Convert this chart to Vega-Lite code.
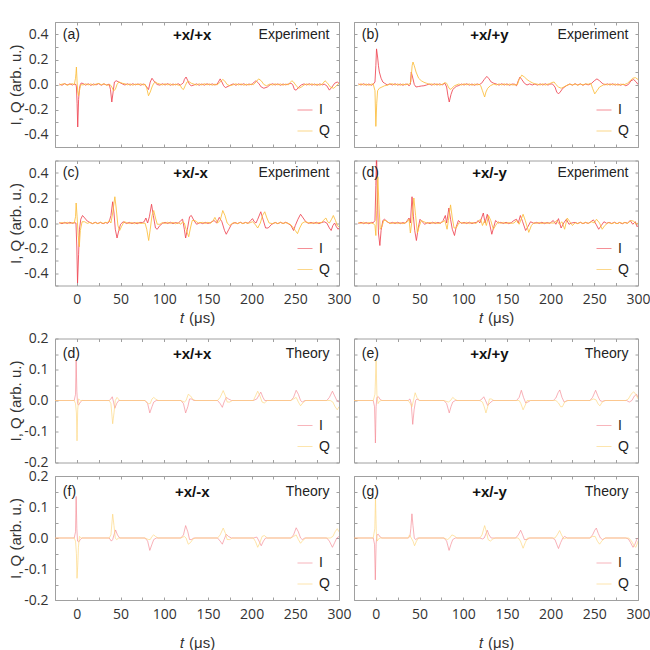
{
"$schema": "https://vega.github.io/schema/vega-lite/v6.json",
"padding": {"left": 8, "top": 14, "right": 5, "bottom": 5},
"config": {
  "view": {"stroke": "#a0a0a0", "strokeWidth": 1},
  "axis": {"domain": false, "grid": false, "ticks": true, "tickSize": -3, "tickColor": "#a0a0a0", "labelFont": "Open Sans", "labelFontSize": 14, "labelColor": "#333333", "labelPadding": 10, "titleFont": "Liberation Sans", "titleFontSize": 15, "titleFontWeight": "normal", "titleColor": "#333333"},
  "locale": {"number": {"decimal": ".", "thousands": ",", "grouping": [3], "currency": ["", ""], "minus": "-"}},
  "legend": {"orient": "bottom-right", "title": null, "symbolType": "stroke", "symbolSize": 225, "symbolStrokeWidth": 1, "symbolOpacity": 0.6, "labelFont": "Liberation Sans", "labelFontSize": 14, "labelColor": "#222222", "offset": 9, "padding": 0, "rowPadding": 6, "labelOffset": 6}
},
"datasets": {
"labels": [
{"p":"a","tag":"(a)","pair":"+x/+x","kind":"Experiment"},
{"p":"b","tag":"(b)","pair":"+x/+y","kind":"Experiment"},
{"p":"c","tag":"(c)","pair":"+x/-x","kind":"Experiment"},
{"p":"dx","tag":"(d)","pair":"+x/-y","kind":"Experiment"},
{"p":"td","tag":"(d)","pair":"+x/+x","kind":"Theory"},
{"p":"te","tag":"(e)","pair":"+x/+y","kind":"Theory"},
{"p":"tf","tag":"(f)","pair":"+x/-x","kind":"Theory"},
{"p":"tg","tag":"(g)","pair":"+x/-y","kind":"Theory"}
],
"a": [
{"t":-20,"I":0.004,"Q":-0.005},{"t":-17,"I":-0.006,"Q":0.003},{"t":-14,"I":0.007,"Q":0.006},{"t":-11,"I":-0.003,"Q":-0.006},{"t":-8,"I":0.005,"Q":0.002},{"t":-5,"I":-0.004,"Q":0.007},{"t":-3,"I":0.003,"Q":-0.002},
{"t":-1.5,"Q":0.05},{"t":-1,"I":0,"Q":0.09},{"t":-0.5,"I":-0.02,"Q":0.14},{"t":0.3,"I":-0.15,"Q":0.02},{"t":1,"I":-0.34,"Q":-0.06},{"t":2,"I":-0.12,"Q":-0.09},{"t":3,"I":-0.03,"Q":-0.05},{"t":4,"I":0,"Q":-0.015},{"t":5,"I":0.012,"Q":0},
{"t":7,"I":0.008,"Q":-0.004},{"t":10,"I":-0.005,"Q":0.006},{"t":13,"I":0.006,"Q":-0.003},{"t":16,"I":-0.007,"Q":0.005},{"t":19,"I":0.004,"Q":-0.006},{"t":22,"I":-0.003,"Q":0.004},{"t":25,"I":0.007,"Q":0.008},{"t":28,"I":-0.006,"Q":-0.002},{"t":31,"I":0.005,"Q":0.006},{"t":34,"I":-0.004,"Q":-0.005},
{"t":37,"I":0.003,"Q":-0.004},{"t":38,"Q":0},{"t":38.5,"I":-0.04},{"t":40,"I":-0.14,"Q":-0.02},{"t":41.5,"I":-0.06},{"t":42,"Q":-0.05},{"t":43,"I":0.02},{"t":44,"Q":-0.04},{"t":45,"I":0.03},{"t":46,"Q":0},{"t":48,"I":0.02,"Q":0.02},{"t":50,"I":0.012,"Q":0.016},{"t":52,"I":0.005,"Q":0.01},{"t":55,"I":-0.004,"Q":0.006},{"t":58,"I":0.006,"Q":-0.003},
{"t":61,"I":-0.005,"Q":0.005},{"t":64,"I":0.006,"Q":-0.006},{"t":67,"I":-0.003,"Q":0.004},{"t":70,"I":0.005,"Q":-0.002},{"t":73,"I":-0.006,"Q":0.006},{"t":76,"I":0.004,"Q":-0.004},
{"t":78,"I":-0.003,"Q":0.004},{"t":80,"I":-0.02,"Q":-0.03},{"t":82,"I":-0.04,"Q":-0.09},{"t":84,"I":0.02,"Q":-0.06},{"t":86,"I":0.05,"Q":-0.02},{"t":88,"I":0.03,"Q":0.01},{"t":90,"I":0.012,"Q":0.02},{"t":92,"I":0,"Q":0.01},{"t":95,"I":-0.005,"Q":0.004},{"t":98,"I":0.006,"Q":-0.004},
{"t":101,"I":-0.004,"Q":0.006},{"t":104,"I":0.007,"Q":-0.003},{"t":107,"I":-0.006,"Q":0.005},{"t":110,"I":0.004,"Q":-0.006},{"t":113,"I":-0.003,"Q":0.004},{"t":116,"I":0.006,"Q":-0.005},
{"t":118.5,"I":-0.004,"Q":-0.008},{"t":120,"I":0.003,"Q":-0.03},{"t":122,"I":0.015,"Q":-0.04},{"t":123,"I":0.04},{"t":124,"Q":-0.01},{"t":125,"I":0.06},{"t":126,"Q":0.02},{"t":127,"I":0.03},{"t":128,"Q":0.025},{"t":129,"I":0},{"t":131,"I":-0.01,"Q":0.01},{"t":134,"I":-0.004,"Q":0.003},{"t":137,"I":0.005,"Q":-0.005},
{"t":140,"I":-0.006,"Q":0.006},{"t":143,"I":0.004,"Q":-0.004},{"t":146,"I":-0.005,"Q":0.007},{"t":149,"I":0.006,"Q":-0.003},{"t":152,"I":-0.003,"Q":0.005},{"t":155,"I":0.005,"Q":-0.006},{"t":158,"I":-0.004,"Q":0.003},
{"t":160.5,"I":0.003,"Q":-0.003},{"t":162,"I":0.02,"Q":0.005},{"t":164,"I":0.045,"Q":0.02},{"t":166,"I":0.02,"Q":0.035},{"t":167,"Q":0.04},{"t":168,"I":-0.01},{"t":169,"Q":0.03},{"t":170,"I":-0.025},{"t":172,"Q":0},{"t":173,"I":-0.015},{"t":175,"Q":-0.01},{"t":176,"I":-0.004},{"t":179,"I":0.005,"Q":-0.002},
{"t":182,"I":-0.006,"Q":0.006},{"t":185,"I":0.005,"Q":-0.004},{"t":188,"I":-0.003,"Q":0.005},{"t":191,"I":0.006,"Q":-0.006},{"t":194,"I":-0.005,"Q":0.003},{"t":197,"I":0.004,"Q":-0.004},
{"t":200,"I":-0.002,"Q":0.004},{"t":202,"Q":-0.002},{"t":203,"I":0.02},{"t":205,"I":0.03,"Q":0.02},{"t":208,"I":0.01,"Q":0.045},{"t":211,"I":-0.02,"Q":0.03},{"t":214,"I":-0.03,"Q":0},{"t":217,"Q":-0.01},{"t":218,"I":-0.02},{"t":221,"I":-0.003,"Q":0.004},{"t":224,"I":0.006,"Q":-0.005},
{"t":227,"I":-0.004,"Q":0.006},{"t":230,"I":0.005,"Q":-0.003},{"t":233,"I":-0.006,"Q":0.005},{"t":236,"I":0.004,"Q":-0.006},{"t":239,"I":-0.003,"Q":0.004},
{"t":242,"I":0.004,"Q":-0.003},{"t":244,"Q":0.015},{"t":245,"I":0.01},{"t":246,"Q":0.03},{"t":247,"I":0},{"t":248,"Q":0.02},{"t":249,"I":-0.04},{"t":251,"I":-0.045,"Q":-0.01},{"t":254,"I":-0.02,"Q":-0.03},{"t":257,"I":-0.003,"Q":-0.02},{"t":260,"I":0.005,"Q":-0.004},{"t":263,"I":-0.004,"Q":0.005},
{"t":266,"I":0.006,"Q":-0.004},{"t":269,"I":-0.005,"Q":0.006},{"t":272,"I":0.004,"Q":-0.005},{"t":275,"I":-0.006,"Q":0.003},{"t":278,"I":0.005,"Q":-0.006},{"t":281,"I":-0.003,"Q":0.004},
{"t":283,"I":0.003},{"t":284,"Q":0.03},{"t":286,"I":-0.01},{"t":287,"Q":0.01},{"t":289,"I":-0.045},{"t":290,"Q":-0.02},{"t":292,"I":-0.02},{"t":294,"Q":-0.03},{"t":295,"I":0.01},{"t":297,"Q":-0.01},{"t":298,"I":0.02},{"t":300,"I":0.01,"Q":0.01}
],
"b": [
{"t":-20,"I":0.005,"Q":-0.004},{"t":-17,"I":-0.004,"Q":0.006},{"t":-14,"I":0.006,"Q":-0.005},{"t":-11,"I":-0.005,"Q":0.004},{"t":-8,"I":0.004,"Q":-0.006},{"t":-5,"I":-0.006,"Q":0.003},{"t":-3,"I":0.003,"Q":0.004},
{"t":-1,"I":0.02,"Q":-0.05},{"t":0,"I":0.15,"Q":-0.335},{"t":0.8,"I":0.285},{"t":1,"Q":-0.15},{"t":2,"I":0.22,"Q":-0.05},{"t":3,"I":0.15},{"t":4,"I":0.1,"Q":-0.03},{"t":6,"I":0.05},{"t":7,"Q":-0.02},{"t":8,"I":0.02},{"t":10,"I":0.01,"Q":-0.01},{"t":13,"I":-0.003,"Q":-0.006},{"t":16,"I":0.005,"Q":0.003},
{"t":19,"I":-0.004,"Q":0.006},{"t":22,"I":0.006,"Q":-0.004},{"t":25,"I":-0.005,"Q":0.005},{"t":28,"I":0.004,"Q":-0.006},{"t":31,"I":-0.006,"Q":0.004},{"t":34,"I":0.003,"Q":-0.003},
{"t":36,"I":0.002,"Q":0.004},{"t":38,"I":-0.01,"Q":0},{"t":39.5,"I":0},{"t":40,"Q":0.02},{"t":40.5,"I":0.1},{"t":41.5,"Q":0.15},{"t":42,"I":0.06},{"t":42.5,"Q":0.18},{"t":44,"I":0,"Q":0.15},{"t":46,"I":-0.02,"Q":0.1},{"t":49,"I":-0.016,"Q":0.05},{"t":52,"I":-0.012,"Q":0.03},{"t":55,"I":-0.01,"Q":0.018},{"t":58,"I":-0.004,"Q":0.01},{"t":61,"I":0.004,"Q":0.002},
{"t":64,"I":-0.005,"Q":0.005},{"t":67,"I":0.006,"Q":-0.004},{"t":70,"I":-0.004,"Q":0.006},{"t":73,"I":0.005,"Q":-0.005},
{"t":76,"I":-0.003,"Q":0.002},{"t":79,"I":0.01,"Q":0.015},{"t":81,"I":-0.02,"Q":0.01},{"t":82.5,"I":-0.09},{"t":83,"Q":-0.02},{"t":84,"I":-0.14},{"t":85,"Q":-0.04},{"t":86,"I":-0.08},{"t":87,"Q":-0.03},{"t":88,"I":-0.04},{"t":90,"Q":-0.01},{"t":92,"I":-0.015},{"t":95,"I":-0.008,"Q":0.004},{"t":98,"I":0.004,"Q":-0.005},
{"t":101,"I":-0.004,"Q":0.006},{"t":104,"I":0.006,"Q":-0.003},{"t":107,"I":-0.005,"Q":0.005},{"t":110,"I":0.004,"Q":-0.006},{"t":113,"I":-0.006,"Q":0.004},{"t":116,"I":0.005,"Q":-0.004},
{"t":118,"I":-0.002,"Q":0.003},{"t":120,"Q":-0.01},{"t":121,"I":0.01},{"t":122,"Q":-0.05},{"t":124,"I":0.04},{"t":124.5,"Q":-0.1},{"t":126,"Q":-0.06},{"t":127,"I":0.065},{"t":128,"Q":-0.03},{"t":129,"I":0.05},{"t":131,"Q":-0.01},{"t":132,"I":0.02},{"t":135,"I":0.01,"Q":0.004},{"t":138,"I":0.004,"Q":-0.004},
{"t":141,"I":-0.005,"Q":0.005},{"t":144,"I":0.006,"Q":-0.004},{"t":147,"I":-0.004,"Q":0.006},{"t":150,"I":0.005,"Q":-0.005},{"t":153,"I":-0.006,"Q":0.004},{"t":156,"I":0.004,"Q":-0.003},
{"t":159,"I":0.002,"Q":-0.003},{"t":161,"I":-0.01},{"t":162,"Q":0},{"t":163,"I":0.03},{"t":164,"Q":0.04},{"t":165,"I":0.06},{"t":167,"I":0.04,"Q":0.075},{"t":170,"I":0.01,"Q":0.06},{"t":173,"I":-0.004,"Q":0.04},{"t":176,"I":0.005,"Q":0.025},{"t":179,"I":-0.004,"Q":0.014},{"t":182,"I":0.004,"Q":0.005},{"t":185,"I":-0.005,"Q":0.003},
{"t":188,"I":0.005,"Q":-0.004},{"t":191,"I":-0.004,"Q":0.006},{"t":194,"I":0.006,"Q":-0.005},{"t":197,"I":-0.005,"Q":0.004},
{"t":199,"I":0.003,"Q":0.006},{"t":201,"Q":0.015},{"t":202,"I":0.005},{"t":204,"Q":0.02},{"t":205,"I":-0.02},{"t":206,"Q":0},{"t":207,"I":-0.06},{"t":209,"I":-0.075,"Q":-0.02},{"t":211,"I":-0.06},{"t":212,"Q":-0.03},{"t":214,"I":-0.03},{"t":215,"Q":-0.02},{"t":218,"I":-0.01},{"t":219,"Q":-0.005},{"t":222,"I":0.004,"Q":0.003},{"t":225,"I":-0.005,"Q":-0.004},
{"t":228,"I":0.006,"Q":0.005},{"t":231,"I":-0.004,"Q":-0.006},{"t":234,"I":0.005,"Q":0.004},{"t":237,"I":-0.006,"Q":-0.003},{"t":240,"I":0.004,"Q":0.005},
{"t":243,"I":-0.003,"Q":0.002},{"t":246,"I":0.006,"Q":0.01},{"t":247,"I":0.01},{"t":248,"Q":-0.03},{"t":250,"I":0.03},{"t":250.5,"Q":-0.075},{"t":253,"I":0.045,"Q":-0.05},{"t":256,"I":0.03,"Q":-0.02},{"t":259,"I":0.01},{"t":260,"Q":-0.005},{"t":262,"I":-0.003,"Q":0.004},{"t":265,"I":0.005,"Q":-0.004},
{"t":268,"I":-0.004,"Q":0.006},{"t":271,"I":0.006,"Q":-0.004},{"t":274,"I":-0.005,"Q":0.005},{"t":277,"I":0.004,"Q":-0.006},{"t":280,"I":-0.006,"Q":0.003},
{"t":283,"I":0.003},{"t":284,"Q":-0.002},{"t":286,"I":-0.01},{"t":288,"Q":0.01},{"t":289,"I":0},{"t":291,"Q":0.03},{"t":292,"I":0.03},{"t":294,"Q":0.05},{"t":295,"I":0.04},{"t":297,"Q":0.055},{"t":298,"I":0.02},{"t":300,"I":0,"Q":0.04}
],
"c": [
{"t":-20,"I":0.004,"Q":-0.005},{"t":-17,"I":-0.006,"Q":0.004},{"t":-14,"I":0.005,"Q":-0.003},{"t":-11,"I":-0.004,"Q":0.006},{"t":-8,"I":0.006,"Q":-0.005},{"t":-5,"I":-0.003,"Q":0.004},
{"t":-3,"I":0.003,"Q":-0.002},{"t":-1.5,"Q":0.05},{"t":-1,"I":0},{"t":-0.8,"Q":0.16},{"t":0,"I":-0.2},{"t":0.3,"Q":0.05},{"t":0.8,"I":-0.48},{"t":1.5,"Q":-0.1},{"t":2,"I":-0.25},{"t":2.8,"Q":-0.19},{"t":3,"I":-0.05},{"t":4,"Q":-0.06},{"t":4.5,"I":0.03},{"t":6,"Q":0.01},{"t":6.5,"I":0.06},{"t":9,"I":0.04,"Q":0.01},{"t":12,"I":0.015,"Q":-0.003},{"t":15,"I":0.004,"Q":0.005},{"t":18,"I":-0.005,"Q":-0.004},
{"t":21,"I":0.006,"Q":0.004},{"t":24,"I":-0.004,"Q":-0.005},{"t":27,"I":0.005,"Q":0.006},{"t":30,"I":-0.006,"Q":-0.003},{"t":33,"I":0.004,"Q":0.005},
{"t":35,"I":-0.003,"Q":0.003},{"t":37,"I":0.01,"Q":0.02},{"t":39,"I":0.06,"Q":0},{"t":41,"I":0.17,"Q":0.08},{"t":42.5,"I":0.08},{"t":43.5,"Q":0.21},{"t":44,"I":-0.05},{"t":45,"Q":0.12},{"t":46,"I":-0.12},{"t":47,"Q":-0.02},{"t":48,"I":-0.06},{"t":49,"Q":-0.06},{"t":50,"I":-0.01},{"t":51,"Q":-0.03},{"t":53,"I":0.01},{"t":54,"Q":0.01},{"t":57,"I":-0.004,"Q":0.004},{"t":60,"I":0.005,"Q":-0.005},
{"t":63,"I":-0.005,"Q":0.004},{"t":66,"I":0.004,"Q":-0.006},{"t":69,"I":-0.006,"Q":0.005},{"t":72,"I":0.005,"Q":-0.003},
{"t":75,"I":0.004,"Q":-0.003},{"t":77,"I":0.01},{"t":78,"Q":0},{"t":79,"I":0.04},{"t":80,"Q":-0.05},{"t":81,"I":0},{"t":82.2,"Q":-0.14},{"t":83,"I":0.05},{"t":84,"Q":-0.05},{"t":85.5,"I":0.15},{"t":86,"Q":0.06},{"t":87.5,"I":0.06},{"t":88,"Q":0.1},{"t":90,"I":-0.04,"Q":0.04},{"t":92,"I":-0.05,"Q":-0.01},{"t":95,"I":-0.02,"Q":-0.01},{"t":98,"I":-0.003,"Q":0.004},{"t":101,"I":0.005,"Q":-0.004},
{"t":104,"I":-0.004,"Q":0.006},{"t":107,"I":0.006,"Q":-0.004},{"t":110,"I":-0.005,"Q":0.005},{"t":113,"I":0.004,"Q":-0.006},
{"t":116,"I":-0.003,"Q":0.003},{"t":119,"I":0.02,"Q":-0.01},{"t":121,"I":0.03,"Q":0.01},{"t":123,"I":-0.05,"Q":0},{"t":124.5,"I":-0.12},{"t":125,"Q":-0.05},{"t":126.5,"I":-0.05},{"t":128,"Q":-0.11},{"t":129,"I":0.05},{"t":130,"Q":-0.04},{"t":131,"I":0.06},{"t":132,"Q":0.02},{"t":134,"I":0.02},{"t":135,"Q":0.02},{"t":137,"I":-0.01},{"t":139,"Q":0},{"t":141,"I":0.003},{"t":144,"I":-0.005,"Q":0.005},
{"t":147,"I":0.005,"Q":-0.004},{"t":150,"I":-0.004,"Q":0.006},
{"t":153,"I":0.004,"Q":-0.003},{"t":156,"Q":0.02},{"t":157,"I":0.02},{"t":158,"Q":0.045},{"t":160,"I":0},{"t":161,"Q":0},{"t":163,"I":0.045},{"t":164,"Q":0.02},{"t":166,"I":0.01},{"t":167,"Q":0.1},{"t":169,"I":-0.06},{"t":169.5,"Q":0.06},{"t":171,"I":-0.09},{"t":172,"Q":0},{"t":174,"I":-0.05},{"t":175,"Q":-0.02},{"t":177,"I":-0.01},{"t":179,"Q":0.003},{"t":181,"I":0.004},{"t":184,"I":-0.005,"Q":-0.004},{"t":187,"I":0.006,"Q":0.005},{"t":190,"I":-0.004,"Q":-0.005},{"t":193,"I":0.005,"Q":0.004},
{"t":196,"I":-0.003,"Q":-0.002},{"t":199,"I":0.02,"Q":0.004},{"t":201,"I":0.035,"Q":0.01},{"t":203,"I":0.01},{"t":204,"Q":-0.01},{"t":205,"I":0},{"t":207,"I":0.03,"Q":-0.04},{"t":210,"Q":0},{"t":210.5,"I":0.09},{"t":212.5,"Q":0.06},{"t":213,"I":0.03},{"t":215,"Q":0.09},{"t":216,"I":-0.04},{"t":217.5,"Q":0.04},{"t":219,"I":-0.04},{"t":220,"Q":0},{"t":223,"I":-0.01},{"t":224,"Q":-0.005},{"t":227,"I":0.004,"Q":0.004},{"t":230,"I":-0.005,"Q":-0.005},{"t":233,"I":0.005,"Q":0.006},{"t":236,"I":-0.004,"Q":-0.004},{"t":239,"I":0.006,"Q":0.003},
{"t":241.5,"I":-0.003,"Q":-0.002},{"t":244,"Q":-0.01},{"t":245,"I":-0.02},{"t":247,"Q":-0.03},{"t":248,"I":-0.06},{"t":250,"I":-0.02,"Q":-0.06},{"t":252.5,"Q":-0.085},{"t":253,"I":0.03},{"t":255,"Q":-0.04},{"t":256,"I":0.07},{"t":258,"Q":0},{"t":259,"I":0.04},{"t":261,"Q":0.01},{"t":262,"I":0.01},{"t":265,"I":-0.003,"Q":0.003},{"t":268,"I":0.005,"Q":-0.004},{"t":271,"I":-0.004,"Q":0.005},{"t":274,"I":0.006,"Q":-0.005},{"t":277,"I":-0.005,"Q":0.004},
{"t":280,"I":0.003,"Q":0.004},{"t":282,"Q":0.02},{"t":283,"I":0.01},{"t":285,"Q":0.04},{"t":286,"I":0},{"t":287,"Q":0.01},{"t":289,"I":-0.04,"Q":0},{"t":291,"I":-0.06},{"t":291.5,"Q":0.03},{"t":293,"I":-0.02},{"t":293.5,"Q":0.06},{"t":295,"I":0},{"t":296,"Q":0.02},{"t":297,"I":-0.03},{"t":298,"Q":-0.02},{"t":299,"I":-0.05},{"t":300,"I":-0.04,"Q":-0.03}
],
"dx": [
{"t":-20,"I":-0.004,"Q":0.005},{"t":-17,"I":0.006,"Q":-0.004},{"t":-14,"I":-0.005,"Q":0.006},{"t":-11,"I":0.004,"Q":-0.005},{"t":-8,"I":-0.006,"Q":0.004},{"t":-5,"I":0.005,"Q":-0.003},
{"t":-3,"I":0.002,"Q":-0.003},{"t":-1,"I":0.02,"Q":-0.02},{"t":0,"I":0.3,"Q":-0.1},{"t":0.8,"I":0.56},{"t":1,"Q":0.1},{"t":1.8,"I":0.2},{"t":2.3,"Q":0.37},{"t":3,"I":-0.08},{"t":3.5,"Q":0.15},{"t":4.6,"I":-0.18},{"t":5,"Q":-0.05},{"t":6,"I":-0.06},{"t":7,"Q":-0.03},{"t":8,"I":0.02},{"t":9,"Q":0.02},{"t":10,"I":0.03},{"t":11,"Q":0.02},{"t":13,"I":0.01},{"t":15,"Q":0.002},{"t":16,"I":-0.003},{"t":19,"I":0.005,"Q":-0.004},{"t":22,"I":-0.004,"Q":0.005},{"t":25,"I":0.006,"Q":-0.005},{"t":28,"I":-0.005,"Q":0.004},{"t":31,"I":0.004,"Q":-0.006},
{"t":33.5,"I":-0.003,"Q":0.002},{"t":36,"I":0.02,"Q":0.01},{"t":38,"I":0.04,"Q":0.03},{"t":39.5,"I":0,"Q":-0.08},{"t":41,"Q":0},{"t":41.4,"I":0.21},{"t":43,"I":0.05},{"t":43.5,"Q":0.2},{"t":44.5,"I":-0.06},{"t":45.5,"Q":0.06},{"t":46.4,"I":-0.14},{"t":47.5,"Q":-0.08},{"t":48.5,"I":-0.04},{"t":49.5,"Q":-0.03},{"t":50.5,"I":0.03},{"t":52,"Q":0.02},{"t":53,"I":0.01},{"t":55,"Q":0.01},{"t":56,"I":-0.01},{"t":59,"I":0.003,"Q":-0.002},{"t":62,"I":-0.005,"Q":0.005},{"t":65,"I":0.006,"Q":-0.004},{"t":68,"I":-0.004,"Q":0.006},{"t":71,"I":0.005,"Q":-0.005},
{"t":74,"I":-0.003,"Q":0.003},{"t":77,"I":0.02,"Q":0.01},{"t":79,"Q":0.02},{"t":79.5,"I":0.06},{"t":81,"I":0},{"t":81.5,"Q":-0.05},{"t":83,"Q":0.02},{"t":83.6,"I":0.12},{"t":85.5,"I":0.03,"Q":0.145},{"t":87.5,"I":-0.05,"Q":0.04},{"t":89.5,"Q":-0.04},{"t":90,"I":-0.1},{"t":92,"I":-0.03,"Q":-0.04},{"t":94.5,"I":0.02},{"t":95,"Q":0},{"t":98,"I":-0.003,"Q":0.004},{"t":101,"I":0.005,"Q":-0.004},{"t":104,"I":-0.004,"Q":0.006},{"t":107,"I":0.006,"Q":-0.005},{"t":110,"I":-0.005,"Q":0.004},{"t":113,"I":0.004,"Q":-0.003},
{"t":115,"I":0.003,"Q":-0.002},{"t":117,"I":0.02},{"t":118,"Q":0.02},{"t":119,"I":0},{"t":120,"Q":0.03},{"t":121,"I":0.04},{"t":122,"Q":-0.02},{"t":123,"I":0.08},{"t":124.5,"Q":0.02},{"t":125,"I":0},{"t":126.5,"Q":-0.02},{"t":127.5,"I":0.07},{"t":129,"Q":0.06},{"t":130,"I":0},{"t":131.5,"Q":0.02},{"t":132.7,"I":-0.09},{"t":134.5,"Q":-0.05},{"t":135,"I":-0.03},{"t":137,"I":0.02,"Q":-0.02},{"t":140,"I":0,"Q":0.01},{"t":143,"I":0.005,"Q":-0.003},{"t":146,"I":-0.004,"Q":0.005},{"t":149,"I":0.006,"Q":-0.004},{"t":152,"I":-0.005,"Q":0.004},
{"t":155,"I":0.003,"Q":-0.003},{"t":158,"I":0.02,"Q":0},{"t":161,"I":0.03,"Q":0.02},{"t":163,"I":0},{"t":164,"Q":-0.01},{"t":165.4,"I":0.06},{"t":168,"I":0.01},{"t":168.5,"Q":0.07},{"t":171,"Q":0.02},{"t":171.4,"I":-0.06},{"t":174,"I":-0.03},{"t":175,"Q":-0.075},{"t":177,"I":0.01},{"t":178,"Q":-0.02},{"t":181,"I":-0.003,"Q":0.003},{"t":184,"I":0.005,"Q":-0.004},{"t":187,"I":-0.004,"Q":0.005},{"t":190,"I":0.006,"Q":-0.005},{"t":193,"I":-0.005,"Q":0.004},{"t":196,"I":0.004,"Q":-0.003},
{"t":199,"I":-0.003,"Q":0.002},{"t":201,"Q":0},{"t":203,"I":0.02},{"t":204,"Q":0},{"t":206,"I":-0.01},{"t":207,"Q":0.02},{"t":209,"I":0.035},{"t":210,"Q":-0.01},{"t":212,"I":-0.04},{"t":213,"Q":0.01},{"t":215,"I":0},{"t":216,"Q":-0.05},{"t":218,"I":0.03},{"t":219,"Q":0.04},{"t":221,"I":-0.01},{"t":222,"Q":0.01},{"t":224,"I":0},{"t":225,"Q":-0.02},{"t":228,"I":0.005,"Q":0.002},{"t":231,"I":-0.004,"Q":-0.005},{"t":234,"I":0.006,"Q":0.005},{"t":237,"I":-0.005,"Q":-0.004},{"t":240,"I":0.004,"Q":0.006},
{"t":243,"I":-0.003,"Q":-0.003},{"t":246,"I":0.01},{"t":247,"Q":0.01},{"t":249,"I":0.025},{"t":250,"Q":0},{"t":252,"I":-0.01},{"t":252.5,"Q":0.03},{"t":255,"I":-0.05},{"t":256,"Q":0},{"t":258,"I":-0.02},{"t":259,"Q":-0.05},{"t":261,"I":0.01},{"t":262,"Q":-0.02},{"t":264,"I":-0.002},{"t":266,"Q":0.003},{"t":267,"I":0.005},{"t":270,"I":-0.004,"Q":-0.005},{"t":273,"I":0.006,"Q":0.004},{"t":276,"I":-0.005,"Q":-0.006},{"t":279,"I":0.004,"Q":0.005},{"t":282,"I":-0.006,"Q":-0.003},{"t":285,"I":0.005,"Q":0.004},
{"t":288,"I":-0.002,"Q":-0.003},{"t":291,"I":0.02},{"t":292,"Q":0.02},{"t":294,"I":-0.01},{"t":295,"Q":0.015},{"t":297,"I":0.01},{"t":298,"Q":-0.01},{"t":299,"I":-0.03},{"t":300,"I":-0.02,"Q":0}
],
"td": [
{"t":-25,"I":0,"Q":0},{"t":-3,"I":0,"Q":0},{"t":-1.5,"I":0.02,"Q":-0.01},{"t":-0.8,"I":0.13},{"t":-0.5,"Q":-0.04},{"t":0,"I":0.03},{"t":0.2,"Q":-0.13},{"t":0.8,"I":-0.01},{"t":1,"Q":-0.03},{"t":2,"I":-0.015,"Q":0.005},{"t":4,"I":-0.005,"Q":0},{"t":6,"I":0},
{"t":37,"I":0,"Q":0},{"t":39,"I":0.005,"Q":-0.01},{"t":40.5,"I":0.012},{"t":41,"Q":-0.075},{"t":42,"I":-0.005},{"t":42.5,"Q":-0.04},{"t":43.5,"I":-0.025},{"t":44,"Q":0},{"t":45.5,"I":-0.01},{"t":46,"Q":0.01},{"t":48,"I":0},{"t":49,"Q":0},
{"t":78,"I":0,"Q":0},{"t":81,"I":-0.01},{"t":82,"Q":-0.01},{"t":83.5,"I":-0.04},{"t":84,"Q":-0.01},{"t":86,"I":-0.02,"Q":0.005},{"t":88,"I":-0.005,"Q":0.01},{"t":90,"Q":0.005},{"t":91,"I":0},{"t":93,"Q":0},
{"t":119,"I":0,"Q":0},{"t":122,"I":-0.01},{"t":123,"Q":-0.005},{"t":124.5,"I":-0.04},{"t":125,"Q":0},{"t":127,"I":-0.02},{"t":127.5,"Q":0.02},{"t":129,"I":0.005},{"t":130,"Q":0.015},{"t":131,"I":0.005},{"t":133,"Q":0.003},{"t":134,"I":0},{"t":136,"Q":0},
{"t":161,"I":0,"Q":0},{"t":164,"I":-0.01,"Q":0.01},{"t":166.5,"I":-0.022},{"t":167.5,"Q":0.032},{"t":168.5,"I":-0.005},{"t":170,"Q":0.015},{"t":171,"I":0.01},{"t":172,"Q":-0.005},{"t":173.5,"I":0.005},{"t":175,"Q":-0.005},{"t":177,"I":0},{"t":178,"Q":0},
{"t":202,"I":0,"Q":0},{"t":204.5,"Q":0.015},{"t":206,"I":0.005},{"t":207,"Q":0.03},{"t":208,"I":0.015},{"t":209.5,"Q":0.015},{"t":210.5,"I":0.027},{"t":212,"Q":-0.005},{"t":213,"I":0.01},{"t":214.5,"Q":-0.008},{"t":215,"I":0},{"t":218,"I":0,"Q":0},
{"t":245,"I":0,"Q":0},{"t":248,"I":0.01,"Q":0.005},{"t":251,"I":0.033,"Q":0.01},{"t":253.5,"I":0.02,"Q":-0.005},{"t":256,"I":0,"Q":-0.017},{"t":258,"I":-0.005},{"t":258.5,"Q":-0.008},{"t":261,"I":0},{"t":262,"Q":0},
{"t":286,"I":0},{"t":287,"Q":0},{"t":289,"I":0.01},{"t":290,"Q":0},{"t":292.5,"I":0.03},{"t":293,"Q":-0.005},{"t":295,"I":0.015},{"t":295.5,"Q":-0.02},{"t":297.5,"I":0},{"t":298,"Q":-0.03},{"t":300,"I":-0.005,"Q":-0.02}
],
"te": [
{"t":-25,"I":0,"Q":0},{"t":-3,"I":0,"Q":0},{"t":-1.5,"I":-0.02},{"t":-1,"Q":0.02},{"t":-0.5,"I":-0.137},{"t":0.3,"I":-0.02,"Q":0.13},{"t":1.2,"I":0.01,"Q":0.02},{"t":2.5,"Q":-0.01},{"t":3,"I":0.012},{"t":4,"Q":-0.003},{"t":5,"I":0.003},{"t":6,"Q":0},{"t":7,"I":0},
{"t":37,"I":0,"Q":0},{"t":39,"I":0.005},{"t":39.5,"Q":-0.01},{"t":40.5,"I":-0.01},{"t":41.3,"Q":-0.02},{"t":42.2,"I":-0.077},{"t":43,"Q":0},{"t":43.8,"I":-0.03},{"t":45,"Q":0.025},{"t":45.5,"I":0},{"t":47,"I":0.005,"Q":0.01},{"t":50,"I":0,"Q":0},
{"t":78,"I":0,"Q":0},{"t":81,"I":-0.01},{"t":83,"Q":-0.005},{"t":84,"I":-0.04},{"t":85.5,"Q":0},{"t":86,"I":-0.02},{"t":88,"I":-0.005,"Q":0.01},{"t":90,"Q":0.005},{"t":91,"I":0},{"t":93,"Q":0},
{"t":119,"I":0,"Q":0},{"t":121.5,"I":0.005},{"t":122,"Q":-0.005},{"t":123.5,"I":0.012},{"t":124,"Q":-0.02},{"t":125.5,"I":0},{"t":126,"Q":-0.04},{"t":128,"I":-0.016,"Q":-0.02},{"t":130,"Q":0.005},{"t":130.5,"I":-0.008},{"t":132,"Q":0.005},{"t":134,"I":0},{"t":135,"Q":0},
{"t":161,"I":0,"Q":0},{"t":164,"I":0.01,"Q":0},{"t":166,"Q":-0.01},{"t":166.5,"I":0.033},{"t":168.5,"Q":-0.03},{"t":169,"I":0.01},{"t":171,"Q":-0.015},{"t":171.5,"I":-0.008},{"t":173,"Q":0},{"t":174,"I":-0.005},{"t":176,"Q":0},{"t":177,"I":0},
{"t":203,"I":0,"Q":0},{"t":206,"I":0.008,"Q":0},{"t":208.5,"I":0.025},{"t":209,"Q":-0.008},{"t":210.5,"I":0.034},{"t":211.5,"Q":-0.02},{"t":213,"I":0.01},{"t":213.5,"Q":-0.02},{"t":215.5,"I":-0.005},{"t":216,"Q":-0.005},{"t":219,"I":0},{"t":220,"Q":0},
{"t":245,"I":0,"Q":0},{"t":248,"I":0.01},{"t":249,"Q":0.005},{"t":251.5,"I":0.033},{"t":252,"Q":0.002},{"t":254,"I":0.015},{"t":254.5,"Q":-0.012},{"t":256.5,"I":0,"Q":-0.017},{"t":259,"I":-0.003,"Q":-0.005},{"t":262,"I":0},{"t":263,"Q":0},
{"t":286,"Q":0},{"t":287,"I":0},{"t":289,"Q":0.005},{"t":290,"I":-0.005},{"t":292,"Q":0.02},{"t":293,"I":0},{"t":295,"Q":0.028},{"t":296,"I":0.015},{"t":297.5,"Q":0.02},{"t":298.5,"I":0.02},{"t":300,"I":0.01,"Q":0.005}
],
"tf": [
{"t":-25,"I":0,"Q":0},{"t":-3,"I":0,"Q":0},{"t":-1.5,"I":0.02,"Q":-0.01},{"t":-0.8,"I":0.134},{"t":-0.5,"Q":-0.05},{"t":0,"I":0.03},{"t":0.2,"Q":-0.13},{"t":0.8,"I":-0.01},{"t":1,"Q":-0.09},{"t":1.8,"Q":-0.03},{"t":2,"I":-0.013},{"t":3,"Q":0.005},{"t":4,"I":-0.005},{"t":5,"Q":0},{"t":6,"I":0},
{"t":37,"I":0,"Q":0},{"t":39,"Q":0.01},{"t":39.5,"I":-0.01},{"t":41,"I":-0.005,"Q":0.077},{"t":42.5,"I":0.01,"Q":0.04},{"t":44,"Q":0},{"t":44.3,"I":0.026},{"t":45.5,"Q":-0.005},{"t":46.5,"I":0.01},{"t":48,"Q":0},{"t":49,"I":0},
{"t":78,"I":0,"Q":0},{"t":81,"I":-0.01},{"t":82,"Q":-0.005},{"t":83.5,"I":-0.04},{"t":84,"Q":-0.005},{"t":86,"I":-0.02,"Q":0.005},{"t":88,"I":-0.005,"Q":0.01},{"t":90,"Q":0.005},{"t":91,"I":0},{"t":93,"Q":0},
{"t":119,"I":0,"Q":0},{"t":122,"I":0.01},{"t":123,"Q":0.005},{"t":124.5,"I":0.04},{"t":125,"Q":0},{"t":127,"I":0.02},{"t":127.5,"Q":-0.02},{"t":129,"I":-0.005},{"t":130,"Q":-0.015},{"t":131,"I":-0.005},{"t":133,"Q":-0.003},{"t":134,"I":0},{"t":136,"Q":0},
{"t":161,"I":0,"Q":0},{"t":164,"I":-0.01,"Q":0.01},{"t":166.5,"I":-0.02},{"t":167.5,"Q":0.032},{"t":168.5,"I":-0.005},{"t":170,"Q":0.015},{"t":171,"I":0.012},{"t":172,"Q":-0.005},{"t":173.5,"I":0.005},{"t":175,"Q":-0.005},{"t":177,"I":0},{"t":178,"Q":0},
{"t":202,"I":0,"Q":0},{"t":204.5,"Q":-0.012},{"t":206,"I":0.003},{"t":207,"Q":-0.03},{"t":208.5,"I":-0.01},{"t":209.5,"Q":-0.015},{"t":211,"I":-0.025},{"t":212,"Q":0.005},{"t":213.5,"I":-0.01},{"t":214.5,"Q":0.008},{"t":216,"I":0},{"t":218,"Q":0},{"t":219,"I":0},
{"t":245,"I":0,"Q":0},{"t":248,"I":0.01,"Q":0.005},{"t":251,"I":0.033,"Q":0.01},{"t":253.5,"I":0.02,"Q":-0.005},{"t":256,"I":0,"Q":-0.017},{"t":258,"I":-0.005},{"t":258.5,"Q":-0.008},{"t":261,"I":0},{"t":262,"Q":0},
{"t":286,"I":0},{"t":287,"Q":0},{"t":289,"I":-0.01},{"t":290,"Q":0},{"t":292.5,"I":-0.03},{"t":293,"Q":0.005},{"t":295,"I":-0.015},{"t":295.5,"Q":0.02},{"t":297.5,"I":0},{"t":298,"Q":0.03},{"t":300,"I":0.005,"Q":0.02}
],
"tg": [
{"t":-25,"I":0,"Q":0},{"t":-3,"I":0,"Q":0},{"t":-1.5,"I":-0.02},{"t":-1.2,"Q":0.03},{"t":-0.6,"I":-0.135},{"t":-0.4,"Q":0.13},{"t":0.3,"I":-0.02},{"t":0.5,"Q":0.02},{"t":1.2,"I":0.01},{"t":1.5,"Q":-0.01},{"t":2.8,"I":0.012},{"t":3,"Q":-0.003},{"t":5,"I":0.003,"Q":0},{"t":7,"I":0},
{"t":37,"I":0,"Q":0},{"t":38.5,"Q":0.01},{"t":39,"I":0.005},{"t":40,"I":0.03},{"t":40.5,"Q":0},{"t":41.3,"I":0.078},{"t":42.5,"I":0.04,"Q":-0.01},{"t":44,"I":0},{"t":44.3,"Q":-0.025},{"t":45.5,"I":-0.005},{"t":46.5,"Q":-0.01},{"t":48,"I":0},{"t":49,"Q":0},
{"t":78,"I":0,"Q":0},{"t":81,"I":-0.01},{"t":82,"Q":-0.005},{"t":83.8,"I":-0.04},{"t":84.5,"Q":0},{"t":86,"I":-0.02},{"t":87,"Q":0.01},{"t":88,"I":-0.005},{"t":89.5,"Q":0.007},{"t":91,"I":0},{"t":93,"Q":0},
{"t":119,"I":0,"Q":0},{"t":121.5,"Q":0.01},{"t":122,"I":-0.003},{"t":124,"I":0},{"t":124.5,"Q":0.04},{"t":125.5,"I":0.01},{"t":126.5,"Q":0.02},{"t":127.5,"I":0.025},{"t":128.5,"Q":-0.005},{"t":129.5,"I":0.01},{"t":131,"Q":-0.01},{"t":132,"I":0},{"t":134,"Q":-0.003},{"t":135,"I":0},{"t":137,"Q":0},
{"t":160,"I":0,"Q":0},{"t":163,"I":0.01,"Q":0},{"t":165.5,"Q":-0.01},{"t":165.7,"I":0.025},{"t":168,"I":0.01},{"t":168.5,"Q":-0.033},{"t":170,"I":-0.005},{"t":171,"Q":-0.015},{"t":173,"I":-0.005},{"t":173.5,"Q":0},{"t":176,"I":0},{"t":177,"Q":0},
{"t":202,"I":0,"Q":0},{"t":205,"I":-0.005,"Q":0},{"t":207,"I":-0.02},{"t":207.5,"Q":0.01},{"t":209,"I":-0.034},{"t":210.3,"Q":0.024},{"t":211.5,"I":-0.015},{"t":212.5,"Q":0.01},{"t":214,"I":0},{"t":215,"Q":-0.003},{"t":216,"I":0.005},{"t":218,"Q":0},{"t":219,"I":0},
{"t":245,"I":0,"Q":0},{"t":248,"I":0.01,"Q":0.005},{"t":250.5,"I":0.025},{"t":251,"Q":0.005},{"t":252.3,"I":0.032},{"t":253.5,"Q":-0.01},{"t":254.5,"I":0.015},{"t":256,"Q":-0.02},{"t":257,"I":0},{"t":258.5,"Q":-0.01},{"t":259.5,"I":-0.005},{"t":262,"Q":0},{"t":263,"I":0},
{"t":286,"I":0,"Q":0},{"t":289,"I":-0.003},{"t":289.5,"Q":0},{"t":291.5,"I":-0.015},{"t":292.5,"Q":-0.01},{"t":294.3,"I":-0.03},{"t":295.5,"Q":-0.025},{"t":296.5,"I":-0.02},{"t":297.5,"Q":-0.03},{"t":298.5,"I":-0.005},{"t":299.5,"Q":-0.015},{"t":300,"I":0,"Q":-0.01}
]
},
"columns": 2,
"bounds": "flush",
"spacing": {"row": 13.5, "column": 15},
"resolve": {"scale": {"color": "independent"}, "legend": {"color": "independent"}},
"concat": [
{"width": 284, "height": 125, "resolve": {"axis": {"x": "independent", "y": "independent"}}, "layer": [
 {"data": {"name": "a"}, "transform": [{"fold": ["I","Q"], "as": ["s","v"]}, {"filter": "isValid(datum.v)"}],
  "mark": {"type": "line", "strokeWidth": 1, "opacity": 0.85, "clip": true},
  "encoding": {
   "x": {"field": "t", "type": "quantitative", "scale": {"domain": [-25,300], "nice": false, "zero": false}, "axis": {"values": [-25,0,25,50,75,100,125,150,175,200,225,250,275,300], "labels": false, "title": null}},
   "y": {"field": "v", "type": "quantitative", "scale": {"domain": [-0.5,0.5], "nice": false, "zero": false}, "axis": {"values": [-0.5,-0.4,-0.3,-0.2,-0.1,0,0.1,0.2,0.3,0.4,0.5], "format": ".1f", "labelExpr": "abs(datum.value) < 0.45 && abs(round(datum.value*10)) % 2 === 0 ? datum.label : ''", "labelOverlap": false, "title": "I, Q (arb. u.)", "titlePadding": 0}},
   "color": {"field": "s", "type": "nominal", "scale": {"domain": ["I","Q"], "range": ["#ef4552","#fbbd3c"]}}
  }},
 {"data": {"name": "labels"}, "transform": [{"filter": "datum.p === 'a'"}], "mark": {"type": "text", "align": "left", "baseline": "middle", "font": "Liberation Sans", "fontSize": 14, "color": "#222222"},
  "encoding": {"x": {"datum": -16, "type": "quantitative", "axis": {"orient": "top", "values": [-25,0,25,50,75,100,125,150,175,200,225,250,275,300], "labels": false, "title": null}}, "y": {"datum": 0.4, "type": "quantitative", "axis": {"orient": "right", "values": [-0.5,-0.4,-0.3,-0.2,-0.1,0,0.1,0.2,0.3,0.4,0.5], "labels": false, "title": null}}, "text": {"field": "tag"}}},
 {"data": {"name": "labels"}, "transform": [{"filter": "datum.p === 'a'"}], "mark": {"type": "text", "align": "center", "baseline": "middle", "font": "Liberation Sans", "fontSize": 15, "fontWeight": "bold", "color": "#111111"},
  "encoding": {"x": {"datum": 132, "type": "quantitative", "axis": null}, "y": {"datum": 0.4, "type": "quantitative", "axis": null}, "text": {"field": "pair"}}},
 {"data": {"name": "labels"}, "transform": [{"filter": "datum.p === 'a'"}], "mark": {"type": "text", "align": "right", "baseline": "middle", "font": "Liberation Sans", "fontSize": 14, "color": "#222222"},
  "encoding": {"x": {"datum": 289, "type": "quantitative", "axis": null}, "y": {"datum": 0.4, "type": "quantitative", "axis": null}, "text": {"field": "kind"}}}
]},
{"width": 284, "height": 125, "resolve": {"axis": {"x": "independent", "y": "independent"}}, "layer": [
 {"data": {"name": "b"}, "transform": [{"fold": ["I","Q"], "as": ["s","v"]}, {"filter": "isValid(datum.v)"}],
  "mark": {"type": "line", "strokeWidth": 1, "opacity": 0.85, "clip": true},
  "encoding": {
   "x": {"field": "t", "type": "quantitative", "scale": {"domain": [-25,300], "nice": false, "zero": false}, "axis": {"values": [-25,0,25,50,75,100,125,150,175,200,225,250,275,300], "labels": false, "title": null}},
   "y": {"field": "v", "type": "quantitative", "scale": {"domain": [-0.5,0.5], "nice": false, "zero": false}, "axis": {"values": [-0.5,-0.4,-0.3,-0.2,-0.1,0,0.1,0.2,0.3,0.4,0.5], "labels": false, "title": null}},
   "color": {"field": "s", "type": "nominal", "scale": {"domain": ["I","Q"], "range": ["#ef4552","#fbbd3c"]}}
  }},
 {"data": {"name": "labels"}, "transform": [{"filter": "datum.p === 'b'"}], "mark": {"type": "text", "align": "left", "baseline": "middle", "font": "Liberation Sans", "fontSize": 14, "color": "#222222"},
  "encoding": {"x": {"datum": -16, "type": "quantitative", "axis": {"orient": "top", "values": [-25,0,25,50,75,100,125,150,175,200,225,250,275,300], "labels": false, "title": null}}, "y": {"datum": 0.4, "type": "quantitative", "axis": {"orient": "right", "values": [-0.5,-0.4,-0.3,-0.2,-0.1,0,0.1,0.2,0.3,0.4,0.5], "labels": false, "title": null}}, "text": {"field": "tag"}}},
 {"data": {"name": "labels"}, "transform": [{"filter": "datum.p === 'b'"}], "mark": {"type": "text", "align": "center", "baseline": "middle", "font": "Liberation Sans", "fontSize": 15, "fontWeight": "bold", "color": "#111111"},
  "encoding": {"x": {"datum": 130, "type": "quantitative", "axis": null}, "y": {"datum": 0.4, "type": "quantitative", "axis": null}, "text": {"field": "pair"}}},
 {"data": {"name": "labels"}, "transform": [{"filter": "datum.p === 'b'"}], "mark": {"type": "text", "align": "right", "baseline": "middle", "font": "Liberation Sans", "fontSize": 14, "color": "#222222"},
  "encoding": {"x": {"datum": 289, "type": "quantitative", "axis": null}, "y": {"datum": 0.4, "type": "quantitative", "axis": null}, "text": {"field": "kind"}}}
]},
{"width": 284, "height": 125, "resolve": {"axis": {"x": "independent", "y": "independent"}}, "layer": [
 {"data": {"name": "c"}, "transform": [{"fold": ["I","Q"], "as": ["s","v"]}, {"filter": "isValid(datum.v)"}],
  "mark": {"type": "line", "strokeWidth": 1, "opacity": 0.85, "clip": true},
  "encoding": {
   "x": {"field": "t", "type": "quantitative", "scale": {"domain": [-25,300], "nice": false, "zero": false}, "axis": {"values": [-25,0,25,50,75,100,125,150,175,200,225,250,275,300], "labelExpr": "datum.value % 50 === 0 ? datum.label : ''", "labelFlush": false, "labelOverlap": false, "title": "𝑡 (μs)", "titlePadding": 4}},
   "y": {"field": "v", "type": "quantitative", "scale": {"domain": [-0.5,0.5], "nice": false, "zero": false}, "axis": {"values": [-0.5,-0.4,-0.3,-0.2,-0.1,0,0.1,0.2,0.3,0.4,0.5], "format": ".1f", "labelExpr": "abs(datum.value) < 0.45 && abs(round(datum.value*10)) % 2 === 0 ? datum.label : ''", "labelOverlap": false, "title": "I, Q (arb. u.)", "titlePadding": 0}},
   "color": {"field": "s", "type": "nominal", "scale": {"domain": ["I","Q"], "range": ["#ef4552","#fbbd3c"]}}
  }},
 {"data": {"name": "labels"}, "transform": [{"filter": "datum.p === 'c'"}], "mark": {"type": "text", "align": "left", "baseline": "middle", "font": "Liberation Sans", "fontSize": 14, "color": "#222222"},
  "encoding": {"x": {"datum": -16, "type": "quantitative", "axis": {"orient": "top", "values": [-25,0,25,50,75,100,125,150,175,200,225,250,275,300], "labels": false, "title": null}}, "y": {"datum": 0.4, "type": "quantitative", "axis": {"orient": "right", "values": [-0.5,-0.4,-0.3,-0.2,-0.1,0,0.1,0.2,0.3,0.4,0.5], "labels": false, "title": null}}, "text": {"field": "tag"}}},
 {"data": {"name": "labels"}, "transform": [{"filter": "datum.p === 'c'"}], "mark": {"type": "text", "align": "center", "baseline": "middle", "font": "Liberation Sans", "fontSize": 15, "fontWeight": "bold", "color": "#111111"},
  "encoding": {"x": {"datum": 130, "type": "quantitative", "axis": null}, "y": {"datum": 0.4, "type": "quantitative", "axis": null}, "text": {"field": "pair"}}},
 {"data": {"name": "labels"}, "transform": [{"filter": "datum.p === 'c'"}], "mark": {"type": "text", "align": "right", "baseline": "middle", "font": "Liberation Sans", "fontSize": 14, "color": "#222222"},
  "encoding": {"x": {"datum": 289, "type": "quantitative", "axis": null}, "y": {"datum": 0.4, "type": "quantitative", "axis": null}, "text": {"field": "kind"}}}
]},
{"width": 284, "height": 125, "resolve": {"axis": {"x": "independent", "y": "independent"}}, "layer": [
 {"data": {"name": "dx"}, "transform": [{"fold": ["I","Q"], "as": ["s","v"]}, {"filter": "isValid(datum.v)"}],
  "mark": {"type": "line", "strokeWidth": 1, "opacity": 0.85, "clip": true},
  "encoding": {
   "x": {"field": "t", "type": "quantitative", "scale": {"domain": [-25,300], "nice": false, "zero": false}, "axis": {"values": [-25,0,25,50,75,100,125,150,175,200,225,250,275,300], "labelExpr": "datum.value % 50 === 0 ? datum.label : ''", "labelFlush": false, "labelOverlap": false, "title": "𝑡 (μs)", "titlePadding": 4}},
   "y": {"field": "v", "type": "quantitative", "scale": {"domain": [-0.5,0.5], "nice": false, "zero": false}, "axis": {"values": [-0.5,-0.4,-0.3,-0.2,-0.1,0,0.1,0.2,0.3,0.4,0.5], "labels": false, "title": null}},
   "color": {"field": "s", "type": "nominal", "scale": {"domain": ["I","Q"], "range": ["#ef4552","#fbbd3c"]}}
  }},
 {"data": {"name": "labels"}, "transform": [{"filter": "datum.p === 'dx'"}], "mark": {"type": "text", "align": "left", "baseline": "middle", "font": "Liberation Sans", "fontSize": 14, "color": "#222222"},
  "encoding": {"x": {"datum": -16, "type": "quantitative", "axis": {"orient": "top", "values": [-25,0,25,50,75,100,125,150,175,200,225,250,275,300], "labels": false, "title": null}}, "y": {"datum": 0.4, "type": "quantitative", "axis": {"orient": "right", "values": [-0.5,-0.4,-0.3,-0.2,-0.1,0,0.1,0.2,0.3,0.4,0.5], "labels": false, "title": null}}, "text": {"field": "tag"}}},
 {"data": {"name": "labels"}, "transform": [{"filter": "datum.p === 'dx'"}], "mark": {"type": "text", "align": "center", "baseline": "middle", "font": "Liberation Sans", "fontSize": 15, "fontWeight": "bold", "color": "#111111"},
  "encoding": {"x": {"datum": 130, "type": "quantitative", "axis": null}, "y": {"datum": 0.4, "type": "quantitative", "axis": null}, "text": {"field": "pair"}}},
 {"data": {"name": "labels"}, "transform": [{"filter": "datum.p === 'dx'"}], "mark": {"type": "text", "align": "right", "baseline": "middle", "font": "Liberation Sans", "fontSize": 14, "color": "#222222"},
  "encoding": {"x": {"datum": 289, "type": "quantitative", "axis": null}, "y": {"datum": 0.4, "type": "quantitative", "axis": null}, "text": {"field": "kind"}}}
]},
{"width": 284, "height": 25.5, "data": {"values": []}, "mark": "point", "view": {"stroke": null}},
{"width": 284, "height": 25.5, "data": {"values": []}, "mark": "point", "view": {"stroke": null}},
{"width": 284, "height": 124, "resolve": {"axis": {"x": "independent", "y": "independent"}}, "layer": [
 {"data": {"name": "td"}, "transform": [{"fold": ["I","Q"], "as": ["s","v"]}, {"filter": "isValid(datum.v)"}],
  "mark": {"type": "line", "strokeWidth": 0.8, "opacity": 0.8, "clip": true},
  "encoding": {
   "x": {"field": "t", "type": "quantitative", "scale": {"domain": [-25,300], "nice": false, "zero": false}, "axis": {"values": [-25,0,25,50,75,100,125,150,175,200,225,250,275,300], "labels": false, "title": null}},
   "y": {"field": "v", "type": "quantitative", "scale": {"domain": [-0.2,0.2], "nice": false, "zero": false}, "axis": {"values": [-0.2,-0.15,-0.1,-0.05,0,0.05,0.1,0.15,0.2], "format": ".1f", "labelExpr": "abs(round(datum.value*100)) % 10 === 0 ? datum.label : ''", "labelOverlap": false, "title": "I, Q (arb. u.)", "titlePadding": 0}},
   "color": {"field": "s", "type": "nominal", "scale": {"domain": ["I","Q"], "range": ["#f4848f","#fdd478"]}}
  }},
 {"data": {"name": "labels"}, "transform": [{"filter": "datum.p === 'td'"}], "mark": {"type": "text", "align": "left", "baseline": "middle", "font": "Liberation Sans", "fontSize": 14, "color": "#222222"},
  "encoding": {"x": {"datum": -16, "type": "quantitative", "axis": {"orient": "top", "values": [-25,0,25,50,75,100,125,150,175,200,225,250,275,300], "labels": false, "title": null}}, "y": {"datum": 0.15, "type": "quantitative", "axis": {"orient": "right", "values": [-0.2,-0.15,-0.1,-0.05,0,0.05,0.1,0.15,0.2], "labels": false, "title": null}}, "text": {"field": "tag"}}},
 {"data": {"name": "labels"}, "transform": [{"filter": "datum.p === 'td'"}], "mark": {"type": "text", "align": "center", "baseline": "middle", "font": "Liberation Sans", "fontSize": 15, "fontWeight": "bold", "color": "#111111"},
  "encoding": {"x": {"datum": 132, "type": "quantitative", "axis": null}, "y": {"datum": 0.15, "type": "quantitative", "axis": null}, "text": {"field": "pair"}}},
 {"data": {"name": "labels"}, "transform": [{"filter": "datum.p === 'td'"}], "mark": {"type": "text", "align": "right", "baseline": "middle", "font": "Liberation Sans", "fontSize": 14, "color": "#222222"},
  "encoding": {"x": {"datum": 289, "type": "quantitative", "axis": null}, "y": {"datum": 0.15, "type": "quantitative", "axis": null}, "text": {"field": "kind"}}}
]},
{"width": 284, "height": 124, "resolve": {"axis": {"x": "independent", "y": "independent"}}, "layer": [
 {"data": {"name": "te"}, "transform": [{"fold": ["I","Q"], "as": ["s","v"]}, {"filter": "isValid(datum.v)"}],
  "mark": {"type": "line", "strokeWidth": 0.8, "opacity": 0.8, "clip": true},
  "encoding": {
   "x": {"field": "t", "type": "quantitative", "scale": {"domain": [-25,300], "nice": false, "zero": false}, "axis": {"values": [-25,0,25,50,75,100,125,150,175,200,225,250,275,300], "labels": false, "title": null}},
   "y": {"field": "v", "type": "quantitative", "scale": {"domain": [-0.2,0.2], "nice": false, "zero": false}, "axis": {"values": [-0.2,-0.15,-0.1,-0.05,0,0.05,0.1,0.15,0.2], "labels": false, "title": null}},
   "color": {"field": "s", "type": "nominal", "scale": {"domain": ["I","Q"], "range": ["#f4848f","#fdd478"]}}
  }},
 {"data": {"name": "labels"}, "transform": [{"filter": "datum.p === 'te'"}], "mark": {"type": "text", "align": "left", "baseline": "middle", "font": "Liberation Sans", "fontSize": 14, "color": "#222222"},
  "encoding": {"x": {"datum": -16, "type": "quantitative", "axis": {"orient": "top", "values": [-25,0,25,50,75,100,125,150,175,200,225,250,275,300], "labels": false, "title": null}}, "y": {"datum": 0.15, "type": "quantitative", "axis": {"orient": "right", "values": [-0.2,-0.15,-0.1,-0.05,0,0.05,0.1,0.15,0.2], "labels": false, "title": null}}, "text": {"field": "tag"}}},
 {"data": {"name": "labels"}, "transform": [{"filter": "datum.p === 'te'"}], "mark": {"type": "text", "align": "center", "baseline": "middle", "font": "Liberation Sans", "fontSize": 15, "fontWeight": "bold", "color": "#111111"},
  "encoding": {"x": {"datum": 130, "type": "quantitative", "axis": null}, "y": {"datum": 0.15, "type": "quantitative", "axis": null}, "text": {"field": "pair"}}},
 {"data": {"name": "labels"}, "transform": [{"filter": "datum.p === 'te'"}], "mark": {"type": "text", "align": "right", "baseline": "middle", "font": "Liberation Sans", "fontSize": 14, "color": "#222222"},
  "encoding": {"x": {"datum": 289, "type": "quantitative", "axis": null}, "y": {"datum": 0.15, "type": "quantitative", "axis": null}, "text": {"field": "kind"}}}
]},
{"width": 284, "height": 124, "resolve": {"axis": {"x": "independent", "y": "independent"}}, "layer": [
 {"data": {"name": "tf"}, "transform": [{"fold": ["I","Q"], "as": ["s","v"]}, {"filter": "isValid(datum.v)"}],
  "mark": {"type": "line", "strokeWidth": 0.8, "opacity": 0.8, "clip": true},
  "encoding": {
   "x": {"field": "t", "type": "quantitative", "scale": {"domain": [-25,300], "nice": false, "zero": false}, "axis": {"values": [-25,0,25,50,75,100,125,150,175,200,225,250,275,300], "labelExpr": "datum.value % 50 === 0 ? datum.label : ''", "labelFlush": false, "labelOverlap": false, "title": "𝑡 (μs)", "titlePadding": 14}},
   "y": {"field": "v", "type": "quantitative", "scale": {"domain": [-0.2,0.2], "nice": false, "zero": false}, "axis": {"values": [-0.2,-0.15,-0.1,-0.05,0,0.05,0.1,0.15,0.2], "format": ".1f", "labelExpr": "abs(round(datum.value*100)) % 10 === 0 ? datum.label : ''", "labelOverlap": false, "title": "I, Q (arb. u.)", "titlePadding": 0}},
   "color": {"field": "s", "type": "nominal", "scale": {"domain": ["I","Q"], "range": ["#f4848f","#fdd478"]}}
  }},
 {"data": {"name": "labels"}, "transform": [{"filter": "datum.p === 'tf'"}], "mark": {"type": "text", "align": "left", "baseline": "middle", "font": "Liberation Sans", "fontSize": 14, "color": "#222222"},
  "encoding": {"x": {"datum": -16, "type": "quantitative", "axis": {"orient": "top", "values": [-25,0,25,50,75,100,125,150,175,200,225,250,275,300], "labels": false, "title": null}}, "y": {"datum": 0.15, "type": "quantitative", "axis": {"orient": "right", "values": [-0.2,-0.15,-0.1,-0.05,0,0.05,0.1,0.15,0.2], "labels": false, "title": null}}, "text": {"field": "tag"}}},
 {"data": {"name": "labels"}, "transform": [{"filter": "datum.p === 'tf'"}], "mark": {"type": "text", "align": "center", "baseline": "middle", "font": "Liberation Sans", "fontSize": 15, "fontWeight": "bold", "color": "#111111"},
  "encoding": {"x": {"datum": 132, "type": "quantitative", "axis": null}, "y": {"datum": 0.15, "type": "quantitative", "axis": null}, "text": {"field": "pair"}}},
 {"data": {"name": "labels"}, "transform": [{"filter": "datum.p === 'tf'"}], "mark": {"type": "text", "align": "right", "baseline": "middle", "font": "Liberation Sans", "fontSize": 14, "color": "#222222"},
  "encoding": {"x": {"datum": 289, "type": "quantitative", "axis": null}, "y": {"datum": 0.15, "type": "quantitative", "axis": null}, "text": {"field": "kind"}}}
]},
{"width": 284, "height": 124, "resolve": {"axis": {"x": "independent", "y": "independent"}}, "layer": [
 {"data": {"name": "tg"}, "transform": [{"fold": ["I","Q"], "as": ["s","v"]}, {"filter": "isValid(datum.v)"}],
  "mark": {"type": "line", "strokeWidth": 0.8, "opacity": 0.8, "clip": true},
  "encoding": {
   "x": {"field": "t", "type": "quantitative", "scale": {"domain": [-25,300], "nice": false, "zero": false}, "axis": {"values": [-25,0,25,50,75,100,125,150,175,200,225,250,275,300], "labelExpr": "datum.value % 50 === 0 ? datum.label : ''", "labelFlush": false, "labelOverlap": false, "title": "𝑡 (μs)", "titlePadding": 14}},
   "y": {"field": "v", "type": "quantitative", "scale": {"domain": [-0.2,0.2], "nice": false, "zero": false}, "axis": {"values": [-0.2,-0.15,-0.1,-0.05,0,0.05,0.1,0.15,0.2], "labels": false, "title": null}},
   "color": {"field": "s", "type": "nominal", "scale": {"domain": ["I","Q"], "range": ["#f4848f","#fdd478"]}}
  }},
 {"data": {"name": "labels"}, "transform": [{"filter": "datum.p === 'tg'"}], "mark": {"type": "text", "align": "left", "baseline": "middle", "font": "Liberation Sans", "fontSize": 14, "color": "#222222"},
  "encoding": {"x": {"datum": -16, "type": "quantitative", "axis": {"orient": "top", "values": [-25,0,25,50,75,100,125,150,175,200,225,250,275,300], "labels": false, "title": null}}, "y": {"datum": 0.15, "type": "quantitative", "axis": {"orient": "right", "values": [-0.2,-0.15,-0.1,-0.05,0,0.05,0.1,0.15,0.2], "labels": false, "title": null}}, "text": {"field": "tag"}}},
 {"data": {"name": "labels"}, "transform": [{"filter": "datum.p === 'tg'"}], "mark": {"type": "text", "align": "center", "baseline": "middle", "font": "Liberation Sans", "fontSize": 15, "fontWeight": "bold", "color": "#111111"},
  "encoding": {"x": {"datum": 130, "type": "quantitative", "axis": null}, "y": {"datum": 0.15, "type": "quantitative", "axis": null}, "text": {"field": "pair"}}},
 {"data": {"name": "labels"}, "transform": [{"filter": "datum.p === 'tg'"}], "mark": {"type": "text", "align": "right", "baseline": "middle", "font": "Liberation Sans", "fontSize": 14, "color": "#222222"},
  "encoding": {"x": {"datum": 289, "type": "quantitative", "axis": null}, "y": {"datum": 0.15, "type": "quantitative", "axis": null}, "text": {"field": "kind"}}}
]}
]
}
